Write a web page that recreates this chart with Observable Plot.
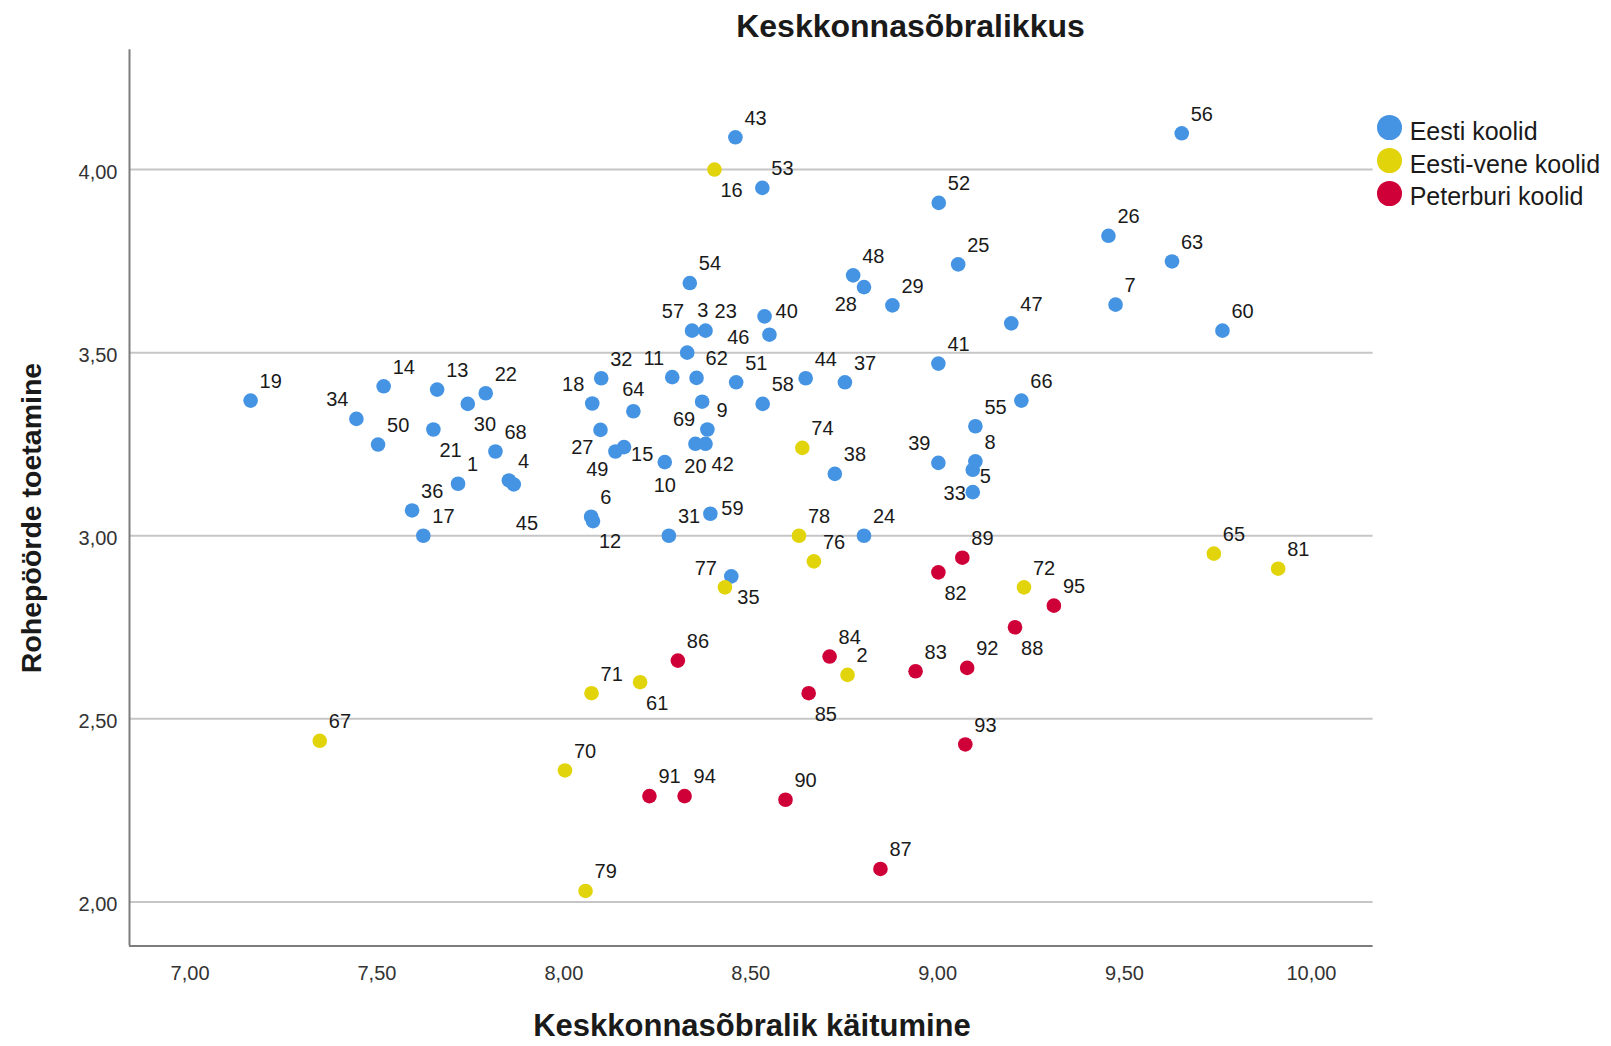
<!DOCTYPE html>
<html>
<head>
<meta charset="utf-8">
<script src="https://cdn.jsdelivr.net/npm/d3@7"></script>
<script src="https://cdn.jsdelivr.net/npm/@observablehq/plot@0.6"></script>
<style>
  html, body { margin: 0; padding: 0; background: #fff; }
  #wrap { position: relative; width: 1611px; height: 1046px; font-family: "Liberation Sans", Arial, sans-serif; color: #1a1a1a; overflow: hidden; }
  #wrap svg { position: absolute; left: 0; top: 0; }
  .ttl { position: absolute; font-weight: bold; white-space: nowrap; }
  .leg { position: absolute; font-size: 25px; line-height: 25px; white-space: nowrap; color: #1a1a1a; }
  .sw { position: absolute; border-radius: 50%; }
</style>
</head>
<body>
<div id="wrap"></div>
<script>
// ---- data ----
const title = "Keskkonnasõbralikkus";
const xTitle = "Keskkonnasõbralik käitumine";
const yTitle = "Rohepöörde toetamine";
const groupNames = ["Eesti koolid", "Eesti-vene koolid", "Peterburi koolid"];
const groupColors = ["#4594e3", "#e2d40b", "#cf0037"];
const xTicks = [7, 7.5, 8, 8.5, 9, 9.5, 10];
const yTicks = [2, 2.5, 3, 3.5, 4];
const xDomain = [6.838, 10.165];
const yDomain = [1.8796, 4.327];

const ids = [1,2,3,4,5,6,7,8,9,10,11,12,13,14,15,16,17,18,19,20,
  21,22,23,24,25,26,27,28,29,30,31,32,33,34,35,36,37,38,39,40,
  41,42,43,44,45,46,47,48,49,50,51,52,53,54,55,56,57,58,59,60,
  61,62,63,64,65,66,67,68,69,70,71,72,74,76,77,78,79,81,
  82,83,84,85,86,87,88,89,90,91,92,93,94,95];
const xVals = [7.717,8.759,8.330,7.853,9.094,8.073,9.476,9.101,8.384,8.270,8.290,8.078,7.661,7.518,8.161,8.403,7.624,8.076,7.162,8.352,
  7.651,7.791,8.379,8.803,9.055,9.457,8.098,8.803,8.879,7.743,8.281,8.100,9.094,7.445,8.448,7.594,8.752,8.725,9.002,8.537,
  9.002,8.379,8.459,8.647,7.866,8.550,9.197,8.774,8.138,7.503,8.461,9.003,8.531,8.337,9.101,9.653,8.343,8.532,8.392,9.762,
  8.204,8.355,9.627,8.186,9.739,9.224,7.347,7.817,8.370,8.003,8.074,9.231,8.638,8.669,8.431,8.629,8.058,9.911,
  9.002,8.941,8.711,8.655,8.305,8.847,9.207,9.066,8.593,8.229,9.079,9.074,8.323,9.311];
const yVals = [3.142,2.620,3.500,3.151,3.180,3.052,3.631,3.203,3.290,3.201,3.433,3.040,3.399,3.408,3.242,4.000,3.000,3.361,3.369,3.251,
  3.290,3.389,3.560,3.000,3.741,3.819,3.289,3.679,3.629,3.360,3.000,3.430,3.119,3.319,2.889,3.069,3.419,3.169,3.199,3.599,
  3.470,3.251,4.088,3.430,3.140,3.549,3.580,3.711,3.230,3.249,3.419,3.909,3.950,3.690,3.299,4.099,3.560,3.360,3.060,3.560,
  2.600,3.431,3.749,3.340,2.951,3.369,2.440,3.230,3.366,2.359,2.570,2.859,3.240,2.930,2.859,3.000,2.030,2.910,
  2.900,2.630,2.670,2.570,2.659,2.090,2.750,2.940,2.279,2.289,2.639,2.430,2.289,2.809];
// 0 = Eesti koolid, 1 = Eesti-vene koolid, 2 = Peterburi koolid
const groupCodes = [0,1,0,0,0,0,0,0,0,0,0,0,0,0,0,1,0,0,0,0,
  0,0,0,0,0,0,0,0,0,0,0,0,0,0,0,0,0,0,0,0,
  0,0,0,0,0,0,0,0,0,0,0,0,0,0,0,0,0,0,0,0,
  1,0,0,0,1,0,1,0,0,1,1,1,1,1,1,1,1,1,
  2,2,2,2,2,2,2,2,2,2,2,2,2,2];
// where each point's number label sits relative to the point
const labelPos = ["NE","NE","NE2","NE","ESE","NE","NE","NE","NE","S","NW","SE","NE","NE","ESE","SE","NE","NW","NE","S",
  "SE","NE","NE","NE","NE","NE","SW","SW","NE","SE","NE","NE","W","NW","SE","NE","NE","NE","NW","E",
  "NE","SE","NE","NE","S2","W2","NE","NE","SW","NE","NE","NE","NE","NE","NE","NE","NW","NE","E","NE",
  "SE","NE","NE","N","NE","NE","NE","NE","SW","NE","NE","NE","NE","NE","NW","NE","NE","NE",
  "SE","NE","NE","SE","NE","NE","SE","NE","NE","NE","NE","NE","NE","NE"];

// ---- chart ----
const data = ids.map((id, i) => ({
  id, x: xVals[i], y: yVals[i], group: groupNames[groupCodes[i]], pos: labelPos[i]
}));

const placements = {
  NE:  {textAnchor: "start",  dx: 9,   dy: -19},
  NE2: {textAnchor: "start",  dx: 10,  dy: -42},
  NW:  {textAnchor: "end",    dx: -8,  dy: -19},
  SE:  {textAnchor: "start",  dx: 6,   dy: 21},
  SW:  {textAnchor: "end",    dx: -7,  dy: 18},
  N:   {textAnchor: "middle", dx: 0,   dy: -22},
  S:   {textAnchor: "middle", dx: 0,   dy: 23},
  S2:  {textAnchor: "start",  dx: 2,   dy: 39},
  E:   {textAnchor: "start",  dx: 11,  dy: -5},
  ESE: {textAnchor: "start",  dx: 7,   dy: 7},
  W:   {textAnchor: "end",    dx: -7,  dy: 1},
  W2:  {textAnchor: "end",    dx: -20, dy: 3}
};

const fmt = d => d.toFixed(2).replace(".", ",");

const labelMarks = Object.entries(placements).map(([code, p]) =>
  Plot.text(data.filter(d => d.pos === code), {
    x: "x", y: "y", text: d => String(d.id),
    textAnchor: p.textAnchor, dx: p.dx, dy: p.dy,
    fontSize: 20, fill: "#1a1a1a"
  })
);

const chart = Plot.plot({
  width: 1611,
  height: 1046,
  marginLeft: 129,
  marginRight: 238.4,
  marginTop: 49.3,
  marginBottom: 100.5,
  x: {domain: xDomain},
  y: {domain: yDomain},
  color: {domain: groupNames, range: groupColors},
  style: {fontFamily: "'Liberation Sans', Arial, sans-serif", fontSize: "20px", background: "transparent", overflow: "visible"},
  marks: [
    Plot.gridY(yTicks, {stroke: "#c6c6c6", strokeOpacity: 1, strokeWidth: 2}),
    Plot.ruleX([xDomain[0]], {stroke: "#7d7d7d", strokeWidth: 2}),
    Plot.ruleY([yDomain[0]], {stroke: "#7d7d7d", strokeWidth: 2}),
    Plot.axisX(xTicks, {tickSize: 0, tickPadding: 20, tickFormat: fmt, fontSize: 20, fill: "#333", label: null}),
    Plot.axisY(yTicks, {tickSize: 0, tickPadding: 12, tickFormat: fmt, fontSize: 20, fill: "#333", label: null, dy: 3}),
    Plot.dot(data, {x: "x", y: "y", fill: "group", r: 7.3}),
    ...labelMarks
  ]
});

const wrap = document.getElementById("wrap");
wrap.appendChild(chart);

function addTitle(text, size, lh, css) {
  const el = document.createElement("div");
  el.className = "ttl";
  el.textContent = text;
  el.style.fontSize = size + "px";
  el.style.lineHeight = lh + "px";
  Object.assign(el.style, css);
  wrap.appendChild(el);
}
addTitle(title, 32, 32, {left: "910.5px", top: "10px", transform: "translateX(-50%)"});
addTitle(xTitle, 31, 26, {left: "752px", top: "1013px", transform: "translateX(-50%)"});
addTitle(yTitle, 28.5, 28.5, {left: "31px", top: "518px", transform: "translate(-50%, -50%) rotate(-90deg)"});

// legend
const legendRows = [127.7, 160.5, 193.3];
groupNames.forEach((name, i) => {
  const sw = document.createElement("div");
  sw.className = "sw";
  const r = 12.3;
  sw.style.left = (1389.7 - r) + "px";
  sw.style.top = (legendRows[i] - r) + "px";
  sw.style.width = (2 * r) + "px";
  sw.style.height = (2 * r) + "px";
  sw.style.background = groupColors[i];
  wrap.appendChild(sw);
  const t = document.createElement("div");
  t.className = "leg";
  t.textContent = name;
  t.style.left = "1409.7px";
  t.style.top = (legendRows[i] - 9) + "px";
  wrap.appendChild(t);
});
</script>
</body>
</html>
